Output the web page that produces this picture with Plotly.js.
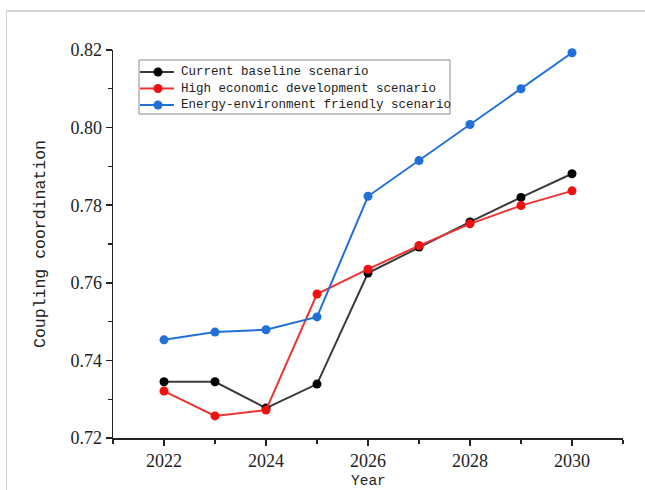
<!DOCTYPE html>
<html>
<head>
<meta charset="utf-8">
<script src="https://cdn.plot.ly/plotly-3.0.1.min.js"></script>
<style>
  html, body { margin: 0; padding: 0; background: #fff; }
  #wrap { position: relative; width: 645px; height: 490px; overflow: hidden; }
  #chart { position: absolute; left: 0; top: 0; width: 645px; height: 490px; }
  #frame { position: absolute; left: 6px; top: 10px; width: 645px; height: 490px;
           border-top: 2px solid #d4d4d4; border-left: 1px solid #cfcfcf; pointer-events: none; }
</style>
</head>
<body>
<div id="wrap">
  <div id="chart"></div>
  <div id="frame"></div>
</div>
<script>
const years = [2022, 2023, 2024, 2025, 2026, 2027, 2028, 2029, 2030];
const seriesNames = [
  "Current baseline scenario",
  "High economic development scenario",
  "Energy-environment friendly scenario"
];
const baseline = [0.7345, 0.7345, 0.7277, 0.7339, 0.7625, 0.7692, 0.7757, 0.7820, 0.7881];
const highEconomic = [0.7321, 0.7257, 0.7272, 0.7571, 0.7635, 0.7696, 0.7752, 0.7799, 0.7837];
const energyFriendly = [0.7453, 0.7473, 0.7479, 0.7512, 0.7823, 0.7915, 0.8008, 0.8100, 0.8193];
const xTickVals = [2022, 2024, 2026, 2028, 2030];
const yTickVals = [0.72, 0.74, 0.76, 0.78, 0.80, 0.82];
const xTitle = "Year";
const yTitle = "Coupling coordination";

const colors = ["#000000", "#ee1111", "#2070d8"];
const lineColors = ["#3a3a3a", "#ee3333", "#2070d8"];
const data = [baseline, highEconomic, energyFriendly].map((ys, i) => ({
  x: years, y: ys, name: seriesNames[i], type: "scatter", mode: "lines+markers",
  cliponaxis: false,
  line: { color: lineColors[i], width: 2 },
  marker: { color: colors[i], size: 9 }
}));

const W = 645, H = 490;
const M = { l: 113, r: 22, t: 50, b: 52 };
const PW = W - M.l - M.r, PH = H - M.t - M.b;
const px = v => (v - M.l) / PW;          // page px -> paper x
const py = v => (H - M.b - v) / PH;      // page px -> paper y

const SERIF = "Liberation Serif";
const MONO = "Liberation Mono";

// custom legend (box, samples, labels) placed in page pixels
const LG = { left: 139, right: 450, top: 60, bottom: 114, rows: [72, 88.5, 105],
             lineX0: 140, lineX1: 174, markX: 158, textX: 179, r: 4.5 };
const shapes = [{
  type: "rect", xref: "paper", yref: "paper",
  x0: px(LG.left), x1: px(LG.right), y0: py(LG.bottom), y1: py(LG.top),
  line: { color: "#8a8a8a", width: 1 }, fillcolor: "#ffffff", layer: "above"
}];
const annotations = [];
seriesNames.forEach((name, i) => {
  const ry = LG.rows[i];
  shapes.push({ type: "line", xref: "paper", yref: "paper",
    x0: px(LG.lineX0), x1: px(LG.lineX1), y0: py(ry), y1: py(ry),
    line: { color: lineColors[i], width: 2 }, layer: "above" });
  shapes.push({ type: "circle", xref: "paper", yref: "paper",
    x0: px(LG.markX - LG.r), x1: px(LG.markX + LG.r), y0: py(ry + LG.r), y1: py(ry - LG.r),
    line: { width: 0 }, fillcolor: colors[i], layer: "above" });
  annotations.push({ xref: "paper", yref: "paper", x: px(LG.textX), y: py(ry),
    xanchor: "left", yanchor: "middle", showarrow: false, text: name,
    font: { family: MONO, size: 12.5, color: "#222" } });
});
// x-axis title near the picture's lower edge
annotations.push({ xref: "paper", yref: "paper", x: 0.5, y: py(489.5), xanchor: "center", yanchor: "bottom",
  showarrow: false, borderpad: 0, text: xTitle, font: { family: MONO, size: 14.5, color: "#222" } });

const layout = {
  width: W, height: H,
  margin: M,
  font: { family: SERIF, size: 18, color: "#222" },
  paper_bgcolor: "#ffffff", plot_bgcolor: "#ffffff",
  showlegend: false,
  shapes: shapes, annotations: annotations,
  xaxis: {
    range: [2021, 2031], tickmode: "array", tickvals: xTickVals, ticktext: xTickVals.map(String),
    showgrid: false, zeroline: false, showline: true, linecolor: "#222", linewidth: 1.5,
    ticks: "outside", ticklen: 6, tickwidth: 1.5, tickcolor: "#222",
    tickfont: { family: SERIF, size: 18, color: "#222" },
    minor: { dtick: 1, tick0: 2021, ticks: "outside", ticklen: 4, tickwidth: 1.2, tickcolor: "#222", showgrid: false },
    automargin: false
  },
  yaxis: {
    range: [0.72, 0.82], tickmode: "array", tickvals: yTickVals, tickformat: ".2f",
    showgrid: false, zeroline: false, showline: true, linecolor: "#222", linewidth: 1.5,
    ticks: "outside", ticklen: 6, tickwidth: 1.5, tickcolor: "#222",
    tickfont: { family: SERIF, size: 18, color: "#222" },
    minor: { dtick: 0.01, tick0: 0.72, ticks: "outside", ticklen: 4, tickwidth: 1.2, tickcolor: "#222", showgrid: false },
    title: { text: yTitle, font: { family: MONO, size: 16.5, color: "#222" }, standoff: 20 },
    automargin: false
  }
};

Plotly.newPlot("chart", data, layout, { displayModeBar: false, staticPlot: true });
</script>
</body>
</html>
